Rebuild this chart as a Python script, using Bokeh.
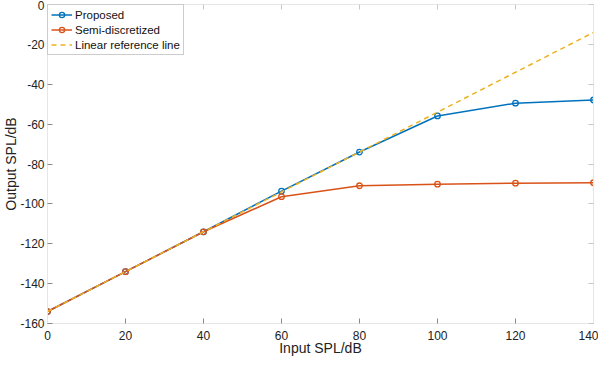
from bokeh.plotting import figure
from bokeh.models import LinearAxis, FixedTicker, Range1d, Legend, LegendItem, CustomLabelingPolicy
from bokeh.embed import file_html
from bokeh.resources import INLINE

# ---- data ----
input_spl = [0, 20, 40, 60, 80, 100, 120, 140]
proposed = [-154, -134, -114, -93.6, -74, -55.9, -49.5, -47.9]
semi_discretized = [-154, -134, -114, -96.4, -90.9, -90.1, -89.6, -89.4]
linear_reference = [-154, -134, -114, -94, -74, -54, -34, -14]

x_ticks = [0, 20, 40, 60, 80, 100, 120, 140]
x_tick_labels = ["0", "20", "40", "60", "80", "100", "120", "140"]
y_ticks = [-160, -140, -120, -100, -80, -60, -40, -20, 0]
y_tick_labels = ["-160", "-140", "-120", "-100", "-80", "-60", "-40", "-20", "0"]

series_names = ["Proposed", "Semi-discretized", "Linear reference line"]

FONT = "Liberation Sans"
BLUE = "#0072BD"
ORANGE = "#D95319"
YELLOW = "#EDB120"

p = figure(width=598, height=358, output_backend="svg", toolbar_location=None,
           x_range=Range1d(0, 140), y_range=Range1d(-160, 0),
           x_axis_location=None, y_axis_location=None,
           min_border_left=39, min_border_right=3, min_border_top=4, min_border_bottom=35)
p.grid.visible = False
p.outline_line_color = "#e6e6e6"
p.background_fill_color = "white"
p.border_fill_color = "white"

def style_axis(ax, ticks, labels):
    ax.ticker = FixedTicker(ticks=ticks)
    ax.major_label_overrides = {t: l for t, l in zip(ticks, labels)}
    ax.axis_line_color = "#e6e6e6"
    ax.major_tick_line_color = "#8a8a8a"
    ax.major_tick_in = 5
    ax.major_tick_out = 0
    ax.minor_tick_line_color = None
    ax.major_label_text_font = FONT
    ax.major_label_text_font_size = "12px"
    ax.major_label_text_color = "#222222"
    ax.axis_label_text_font = FONT
    ax.axis_label_text_font_style = "normal"
    ax.axis_label_text_color = "#222222"
    ax.axis_label_text_font_size = "14px"

xb = LinearAxis(axis_label="Input SPL/dB")
style_axis(xb, x_ticks, x_tick_labels)
xb.major_label_standoff = 7
xb.axis_label_standoff = -3
p.add_layout(xb, "below")

yl = LinearAxis(axis_label="Output SPL/dB")
style_axis(yl, y_ticks, y_tick_labels)
yl.major_label_standoff = 3
yl.axis_label_standoff = -2
p.add_layout(yl, "left")

# mirrored tick marks on top and right (no labels), as in the original box axes
no_labels = "for (const i of Array.from(indices)) { indices.unset(i) } return indices"
for loc, ticks, labels in (("above", x_ticks, x_tick_labels), ("right", y_ticks, y_tick_labels)):
    ax = LinearAxis()
    style_axis(ax, ticks, labels)
    ax.major_label_text_font_size = "1px"
    ax.major_label_standoff = 0
    ax.major_label_policy = CustomLabelingPolicy(code=no_labels)
    ax.major_tick_line_color = "#c8c8c8"
    p.add_layout(ax, loc)

l1 = p.line(input_spl, proposed, line_color=BLUE, line_width=1.5)
m1 = p.scatter(input_spl, proposed, marker="circle", size=5.5, line_color=BLUE,
               fill_color=None, line_width=1.3)
l2 = p.line(input_spl, semi_discretized, line_color=ORANGE, line_width=1.5)
m2 = p.scatter(input_spl, semi_discretized, marker="circle", size=5.5, line_color=ORANGE,
               fill_color=None, line_width=1.3)
l3 = p.line(input_spl, linear_reference, line_color=YELLOW, line_width=1.5, line_dash="5 4")

legend = Legend(items=[
    LegendItem(label=series_names[0], renderers=[l1, m1]),
    LegendItem(label=series_names[1], renderers=[l2, m2]),
    LegendItem(label=series_names[2], renderers=[l3]),
], location="top_left")
legend.margin = 0
legend.padding = 3
legend.spacing = 2
legend.glyph_width = 21
legend.glyph_height = 13
legend.label_height = 13
legend.label_standoff = 3
legend.label_text_font = FONT
legend.label_text_font_size = "11.5px"
legend.label_text_color = "#111111"
legend.border_line_color = "#9a9a9a"
legend.border_line_width = 1
legend.background_fill_color = "white"
legend.background_fill_alpha = 1.0
p.add_layout(legend, "center")

open("out.html", "w").write(file_html(p, INLINE))
